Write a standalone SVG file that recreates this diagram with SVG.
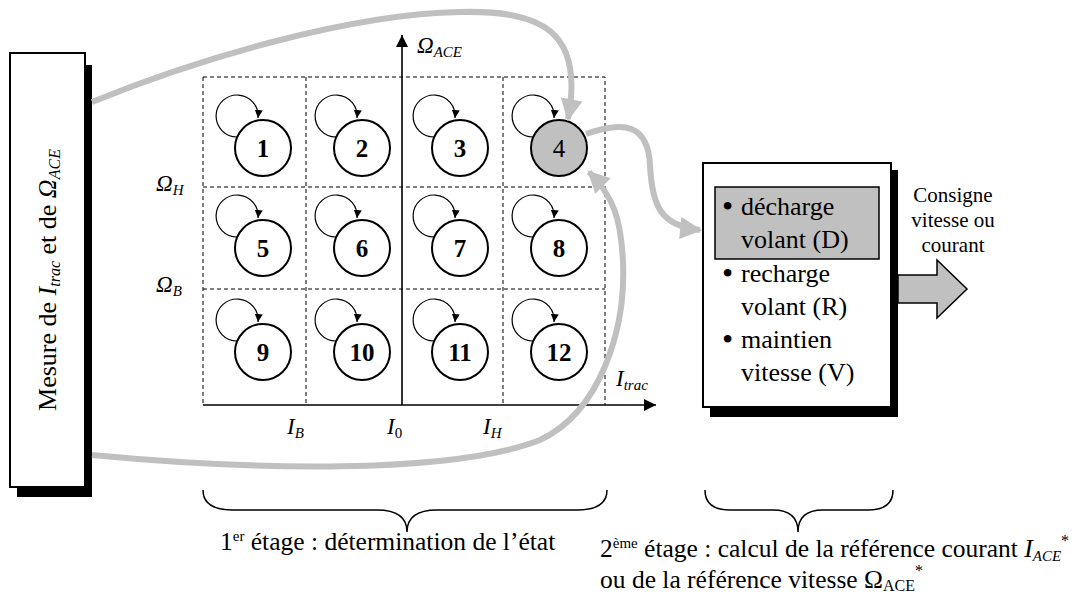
<svg xmlns="http://www.w3.org/2000/svg" width="1075" height="598" viewBox="0 0 1075 598">
<style>
.t{font-family:"Liberation Serif","Times New Roman",serif;fill:#000}
.it{font-style:italic}
.num{font-family:"Liberation Serif","Times New Roman",serif;font-weight:bold;font-size:25px;text-anchor:middle}
.st{fill:#fff;stroke:#000;stroke-width:2}
.loop{fill:none;stroke:#000;stroke-width:1.2}
.dash{fill:none;stroke:#000;stroke-width:1;stroke-dasharray:4 3}
.gray{fill:none;stroke:#c0c0c0;stroke-width:6}
.brace{fill:none;stroke:#000;stroke-width:1.5}
.bul{font-size:32px}
</style>
<defs>
<marker id="ah" viewBox="0 0 10 10" refX="10" refY="5" markerWidth="8" markerHeight="8" markerUnits="userSpaceOnUse" orient="auto">
<path d="M0 0L10 5L0 10z" fill="#000"/>
</marker>
<marker id="ax" viewBox="0 0 10 10" refX="10" refY="5" markerWidth="13" markerHeight="12" markerUnits="userSpaceOnUse" orient="auto">
<path d="M0 0L10 5L0 10z" fill="#000"/>
</marker>
<marker id="gh" viewBox="0 0 10 10" refX="9" refY="5" markerWidth="24" markerHeight="22" markerUnits="userSpaceOnUse" orient="auto">
<path d="M0 0L10 5L0 10z" fill="#c0c0c0"/>
</marker>
</defs>
<rect width="1075" height="598" fill="#fff"/>

<!-- grid -->
<g id="grid">
<path class="dash" d="M203 77H605V405M203 77V405M306 77V405M503 77V405M203 187H605M203 289H605"/>
<line x1="402" y1="405" x2="402" y2="35" stroke="#000" stroke-width="1.6" marker-end="url(#ax)"/>
<line x1="203" y1="405" x2="656" y2="405" stroke="#000" stroke-width="1.6" marker-end="url(#ax)"/>
<text class="t it" x="417" y="53" font-size="23">Ω<tspan font-size="15" dy="4">ACE</tspan></text>
<text class="t it" x="156" y="191" font-size="23">Ω<tspan font-size="15" dy="4">H</tspan></text>
<text class="t it" x="156" y="292" font-size="23">Ω<tspan font-size="15" dy="4">B</tspan></text>
<text class="t it" x="616" y="386" font-size="23">I<tspan font-size="15" dy="4">trac</tspan></text>
<text class="t it" x="287" y="434" font-size="23">I<tspan font-size="15" dy="4">B</tspan></text>
<text class="t it" x="387" y="434" font-size="23">I<tspan font-size="15" dy="4" font-style="normal">0</tspan></text>
<text class="t it" x="483" y="434" font-size="23">I<tspan font-size="15" dy="4">H</tspan></text>
</g>

<!-- left box -->
<g id="mesure">
<rect x="17" y="65" width="75" height="432" fill="#000"/>
<rect x="10" y="53" width="75" height="434" class="st"/>
<text class="t" font-size="26" text-anchor="middle" transform="translate(56 280) rotate(-90)">Mesure de <tspan class="it">I<tspan font-size="16" dy="4">trac</tspan></tspan><tspan dy="-4"> et de </tspan><tspan class="it">Ω<tspan font-size="16" dy="4">ACE</tspan></tspan></text>
</g>

<!-- states -->
<g id="s1"><circle cx="263" cy="148" r="28" class="st"/><path class="loop" d="M237 137A21 21 0 1 1 258 118" marker-end="url(#ah)"/><text class="num" x="263" y="157">1</text></g>
<g id="s2"><circle cx="362" cy="148" r="28" class="st"/><path class="loop" d="M336 137A21 21 0 1 1 357 118" marker-end="url(#ah)"/><text class="num" x="362" y="157">2</text></g>
<g id="s3"><circle cx="460" cy="148" r="28" class="st"/><path class="loop" d="M434 137A21 21 0 1 1 455 118" marker-end="url(#ah)"/><text class="num" x="460" y="157">3</text></g>
<g id="s4"><circle cx="559" cy="148" r="28" fill="#c0c0c0" stroke="#000" stroke-width="2"/><path class="loop" d="M533 137A21 21 0 1 1 554 118" marker-end="url(#ah)"/><text class="t" font-size="25" text-anchor="middle" x="559" y="157">4</text></g>
<g id="s5"><circle cx="263" cy="248" r="28" class="st"/><path class="loop" d="M237 237A21 21 0 1 1 258 218" marker-end="url(#ah)"/><text class="num" x="263" y="257">5</text></g>
<g id="s6"><circle cx="362" cy="248" r="28" class="st"/><path class="loop" d="M336 237A21 21 0 1 1 357 218" marker-end="url(#ah)"/><text class="num" x="362" y="257">6</text></g>
<g id="s7"><circle cx="460" cy="248" r="28" class="st"/><path class="loop" d="M434 237A21 21 0 1 1 455 218" marker-end="url(#ah)"/><text class="num" x="460" y="257">7</text></g>
<g id="s8"><circle cx="559" cy="248" r="28" class="st"/><path class="loop" d="M533 237A21 21 0 1 1 554 218" marker-end="url(#ah)"/><text class="num" x="559" y="257">8</text></g>
<g id="s9"><circle cx="263" cy="352" r="28" class="st"/><path class="loop" d="M237 341A21 21 0 1 1 258 322" marker-end="url(#ah)"/><text class="num" x="263" y="361">9</text></g>
<g id="s10"><circle cx="362" cy="352" r="28" class="st"/><path class="loop" d="M336 341A21 21 0 1 1 357 322" marker-end="url(#ah)"/><text class="num" x="362" y="361">10</text></g>
<g id="s11"><circle cx="460" cy="352" r="28" class="st"/><path class="loop" d="M434 341A21 21 0 1 1 455 322" marker-end="url(#ah)"/><text class="num" x="460" y="361">11</text></g>
<g id="s12"><circle cx="559" cy="352" r="28" class="st"/><path class="loop" d="M533 341A21 21 0 1 1 554 322" marker-end="url(#ah)"/><text class="num" x="559" y="361">12</text></g>

<!-- right box -->
<g id="calcul">
<rect x="710" y="170" width="188" height="247" fill="#000"/>
<rect x="703" y="163" width="188" height="244" class="st"/>
<rect x="715" y="187" width="164" height="72" fill="#c0c0c0" stroke="#000" stroke-width="1.5"/>
<g class="t" font-size="26">
<text class="bul" x="722" y="217">•</text><text x="741" y="215">décharge</text>
<text x="741" y="248">volant (D)</text>
<text class="bul" x="722" y="284">•</text><text x="741" y="282">recharge</text>
<text x="741" y="315">volant (R)</text>
<text class="bul" x="722" y="350">•</text><text x="741" y="348">maintien</text>
<text x="741" y="381">vitesse (V)</text>
</g>
</g>

<g id="sortie">
<path d="M898 275H937V260L967 289L937 318V303H898z" fill="#c0c0c0" stroke="#000" stroke-width="1.5"/>
<g class="t" font-size="21" text-anchor="middle">
<text x="953" y="202">Consigne</text>
<text x="953" y="227">vitesse ou</text>
<text x="953" y="252">courant</text>
</g>
</g>

<!-- connectors -->
<g id="connectors">
<path class="gray" d="M92 102C200 58 350 14 460 12C540 10 585 30 568 119" marker-end="url(#gh)"/>
<path class="gray" d="M586 134C625 120 648 125 650 165C652 205 660 226 700 230" marker-end="url(#gh)"/>
<path class="gray" d="M92 455C250 470 450 475 540 440C600 412 626 330 623 262C621 218 613 196 589 172" marker-end="url(#gh)"/>
</g>

<!-- braces -->
<g id="braces">
<path class="brace" d="M203 490Q203 510 233 510H377Q407 510 407 532Q407 510 437 510H577Q607 510 607 490"/>
<path class="brace" d="M705 490Q705 510 730 510H773Q798 510 798 532Q798 510 823 510H868Q893 510 893 490"/>
<text class="t" font-size="25.5" x="220" y="550">1<tspan font-size="15" dy="-9">er</tspan><tspan dy="9"> étage : détermination de l’état</tspan></text>
<text class="t" font-size="25.5" x="600" y="557">2<tspan font-size="15" dy="-9">ème</tspan><tspan dy="9"> étage : calcul de la référence courant </tspan><tspan class="it">I<tspan font-size="15" dy="4">ACE</tspan></tspan><tspan font-size="16" dy="-15">*</tspan></text>
<text class="t" font-size="25.5" x="600" y="588">ou de la référence vitesse Ω<tspan font-size="16" dy="3">ACE</tspan><tspan font-size="16" dy="-15">*</tspan></text>
</g>
</svg>
